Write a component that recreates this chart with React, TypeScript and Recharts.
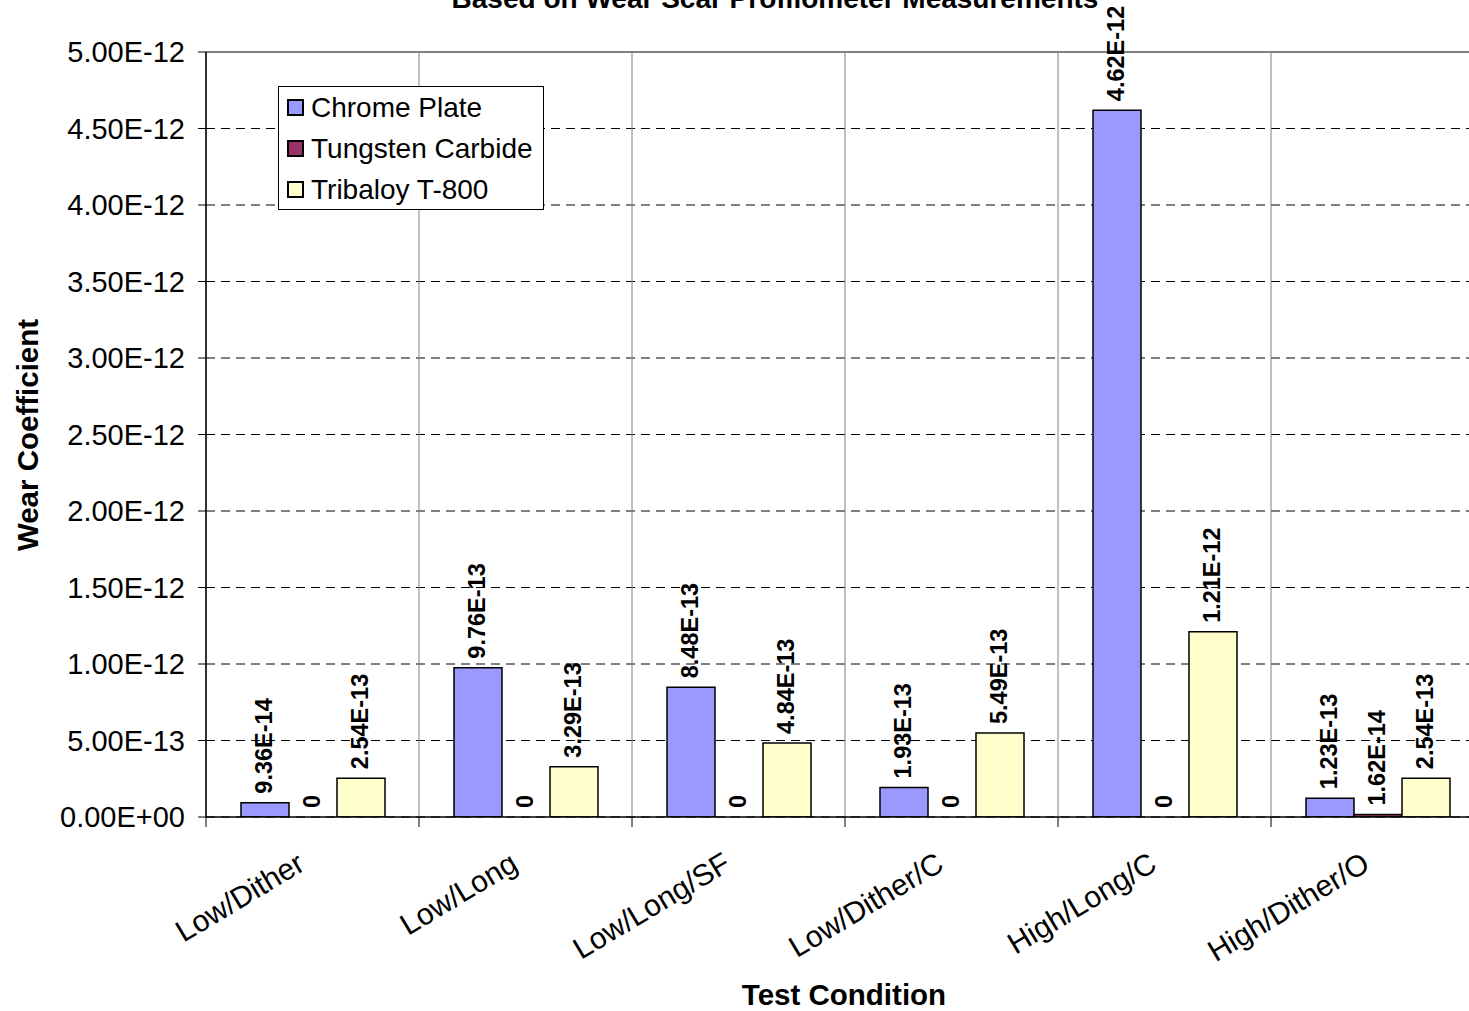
import React from 'react';
import {
  BarChart,
  Bar,
  XAxis,
  YAxis,
  CartesianGrid,
  Legend,
  LabelList,
  ReferenceLine,
  Customized,
} from 'recharts';

const FONT = '"Liberation Sans", Arial, Helvetica, sans-serif';

const categories = ['Low/Dither', 'Low/Long', 'Low/Long/SF', 'Low/Dither/C', 'High/Long/C', 'High/Dither/O'];
const chromePlate = [9.36e-14, 9.76e-13, 8.48e-13, 1.93e-13, 4.62e-12, 1.23e-13];
const tungstenCarbide = [0, 0, 0, 0, 0, 1.62e-14];
const tribaloyT800 = [2.54e-13, 3.29e-13, 4.84e-13, 5.49e-13, 1.21e-12, 2.54e-13];
const yTicks = [0, 5e-13, 1e-12, 1.5e-12, 2e-12, 2.5e-12, 3e-12, 3.5e-12, 4e-12, 4.5e-12, 5e-12];
const seriesNames = ['Chrome Plate', 'Tungsten Carbide', 'Tribaloy T-800'];
const seriesColors = ['#9999FF', '#993366', '#FFFFCC'];
const chartTitle = 'Based on Wear Scar Profilometer Measurements';
const xTitle = 'Test Condition';
const yTitle = 'Wear Coefficient';

const data = categories.map((c, i) => ({
  name: c,
  chrome: chromePlate[i],
  tungsten: tungstenCarbide[i],
  tribaloy: tribaloyT800[i],
}));

function sci(v: number, digits: number): string {
  const [m, e] = v.toExponential(digits).split('e');
  const ei = parseInt(e, 10);
  const sign = ei < 0 ? '-' : '+';
  return `${m}E${sign}${String(Math.abs(ei)).padStart(2, '0')}`;
}

const fmtTick = (v: number) => (v === 0 ? '0.00E+00' : sci(v, 2));
const fmtLabel = (v: number) => (v === 0 ? '0' : sci(v, 2));

const labelText = (x: number, y: number, width: number, value: number) => {
  const cx = x + width / 2;
  return (
    <text
      transform={`translate(${cx + 7},${y - 9}) rotate(-90)`}
      fontSize={23.5}
      fontWeight="bold"
      fontFamily={FONT}
      fill="#000"
      textAnchor="start"
    >
      {fmtLabel(value)}
    </text>
  );
};

const renderLabel = (props: any) =>
  labelText(Number(props.x), Number(props.y), Number(props.width), Number(props.value));

const makeShapeWithLabel = (key: string) => (props: any) => {
  const { x, y, width, height, fill, payload } = props;
  const v = payload ? Number(payload[key]) : 0;
  const h = Number(height) || 0;
  return (
    <g>
      {h > 0 && (
        <rect x={x} y={y} width={width} height={h} fill={fill} stroke="#000" strokeWidth={1.5} />
      )}
      {labelText(Number(x), Number(y), Number(width), v)}
    </g>
  );
};

const XTick = (props: any) => {
  const { x, y, payload, index } = props;
  const half = payload && typeof payload.offset === 'number' && payload.offset > 0 ? payload.offset : 106.5;
  return (
    <g>
      <line x1={x - half} x2={x - half} y1={y} y2={y + 10} stroke="#000" strokeWidth={1} />
      {index === categories.length - 1 && (
        <line x1={x + half} x2={x + half} y1={y} y2={y + 10} stroke="#000" strokeWidth={1} />
      )}
      <text
        transform={`translate(${x - 6},${y + 52}) rotate(-31)`}
        textAnchor="end"
        fontSize={30}
        fontFamily={FONT}
        fill="#000"
      >
        {payload.value}
      </text>
    </g>
  );
};

const renderLegend = () => (
  <div
    style={{
      width: 266,
      height: 124,
      boxSizing: 'border-box',
      border: '1px solid #000',
      background: '#fff',
      fontFamily: FONT,
      fontSize: 28,
      color: '#000',
      paddingLeft: 8,
    }}
  >
    {seriesNames.map((n, i) => (
      <div key={n} style={{ display: 'flex', alignItems: 'center', height: 41 }}>
        <span
          style={{
            display: 'inline-block',
            width: 17,
            height: 17,
            boxSizing: 'border-box',
            border: '2px solid #000',
            background: seriesColors[i],
            marginRight: 7,
          }}
        />
        <span style={{ lineHeight: '32px', whiteSpace: 'nowrap' }}>{n}</span>
      </div>
    ))}
  </div>
);

const Titles = () => (
  <g fontFamily={FONT} fill="#000">
    <text x={775} y={8} textAnchor="middle" fontSize={28} fontWeight="bold">
      {chartTitle}
    </text>
    <text x={844} y={1005} textAnchor="middle" fontSize={29.5} fontWeight="bold">
      {xTitle}
    </text>
    <text transform="translate(38,435) rotate(-90)" textAnchor="middle" fontSize={29.5} fontWeight="bold">
      {yTitle}
    </text>
  </g>
);

const verticalGen = (p: any) => {
  const off = p && p.offset ? p.offset : { left: 206, width: 1278 };
  const n = categories.length;
  return Array.from({ length: n + 1 }, (_, i) => off.left + (i * off.width) / n);
};

export default function App() {
  return (
    <div style={{ position: 'absolute', left: 0, top: 0, width: 1469, height: 1011, overflow: 'hidden', background: '#fff' }}>
      <BarChart
        width={1490}
        height={1011}
        data={data}
        margin={{ top: 52, right: 6, bottom: 0, left: 0 }}
        barCategoryGap={35}
        barGap={0}
      >
        <CartesianGrid horizontal={true} vertical={false} stroke="#000" strokeDasharray="9 6" strokeWidth={1} />
        <CartesianGrid
          horizontal={false}
          vertical={true}
          stroke="#808080"
          strokeWidth={1}
          verticalCoordinatesGenerator={verticalGen}
        />
        <ReferenceLine y={5e-12} stroke="#808080" strokeWidth={2} />
        <XAxis
          dataKey="name"
          type="category"
          interval={0}
          height={194}
          tickLine={false}
          tickSize={0}
          tickMargin={0}
          axisLine={{ stroke: '#000', strokeWidth: 1.5 }}
          tick={<XTick />}
        />
        <YAxis
          type="number"
          domain={[0, 5e-12]}
          ticks={yTicks}
          width={206}
          interval={0}
          tickFormatter={fmtTick}
          tickSize={8}
          tickMargin={13}
          tickLine={{ stroke: '#000', strokeWidth: 1 }}
          axisLine={{ stroke: '#000', strokeWidth: 1.5 }}
          tick={{ fontSize: 29, fontFamily: FONT, fill: '#000' }}
          allowDataOverflow={true}
        />
        <Legend
          layout="vertical"
          align="center"
          verticalAlign="middle"
          content={renderLegend}
          wrapperStyle={{ position: 'absolute', left: 278, top: 86, width: 266, height: 124 }}
        />
        <Bar
          dataKey="chrome"
          name={seriesNames[0]}
          fill={seriesColors[0]}
          stroke="#000"
          strokeWidth={1.5}
          isAnimationActive={false}
        >
          <LabelList dataKey="chrome" content={renderLabel} />
        </Bar>
        <Bar
          dataKey="tungsten"
          name={seriesNames[1]}
          fill={seriesColors[1]}
          stroke="#000"
          strokeWidth={1.5}
          isAnimationActive={false}
          shape={makeShapeWithLabel('tungsten')}
        />
        <Bar
          dataKey="tribaloy"
          name={seriesNames[2]}
          fill={seriesColors[2]}
          stroke="#000"
          strokeWidth={1.5}
          isAnimationActive={false}
        >
          <LabelList dataKey="tribaloy" content={renderLabel} />
        </Bar>
        <Customized component={Titles} />
      </BarChart>
    </div>
  );
}
